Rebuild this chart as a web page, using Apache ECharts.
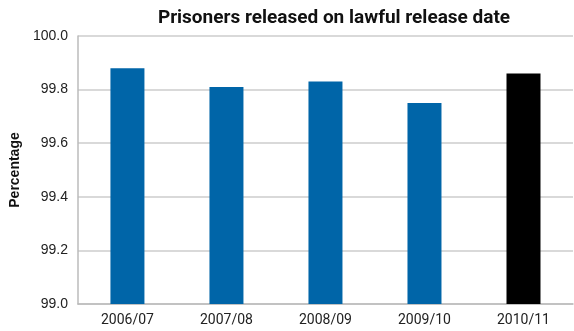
<!DOCTYPE html>
<html><head><meta charset="utf-8">
<script src="https://cdn.jsdelivr.net/npm/echarts@6/dist/echarts.min.js"></script>
<style>html,body{margin:0;padding:0;background:#fff}#c{width:574px;height:331px}</style>
</head><body><div id="c"></div>
<script>
const categories = ['2006/07','2007/08','2008/09','2009/10','2010/11'];
const values = [99.88, 99.81, 99.83, 99.75, 99.86];
const barColors = ['#0065a8','#0065a8','#0065a8','#0065a8','#000000'];
const chart = echarts.init(document.getElementById('c'));
chart.setOption({
  animation:false,
  title:{text:'Prisoners released on lawful release date',left:329,top:4,textAlign:'center',
    textStyle:{fontFamily:'Roboto',fontWeight:'bold',fontSize:19,color:'#111'}},
  grid:{left:72,right:1,top:36,bottom:27},
  xAxis:{type:'category',data:categories,
    axisLine:{lineStyle:{color:'#bbb',width:1.5}},
    axisTick:{inside:true,length:6,lineStyle:{color:'#bbb'}},
    axisLabel:{fontFamily:'Roboto',fontSize:14,color:'#222',margin:9}},
  yAxis:{type:'value',min:99.0,max:100.0,interval:0.2,
    name:'Percentage',nameLocation:'middle',nameGap:50,
    nameTextStyle:{fontFamily:'Liberation Sans',fontWeight:'bold',fontSize:14,color:'#111'},
    axisLine:{show:true,lineStyle:{color:'#bbb',width:1.5}},
    axisTick:{show:false},
    splitLine:{lineStyle:{color:'#ccc',width:1.5}},
    axisLabel:{fontFamily:'Liberation Sans',fontSize:14,color:'#222',margin:10,
      formatter:v=>v.toFixed(1)}},
  series:[{type:'bar',barWidth:34,
    data:values.map((v,i)=>({value:v,itemStyle:{color:barColors[i]}}))}]
});
</script></body></html>
